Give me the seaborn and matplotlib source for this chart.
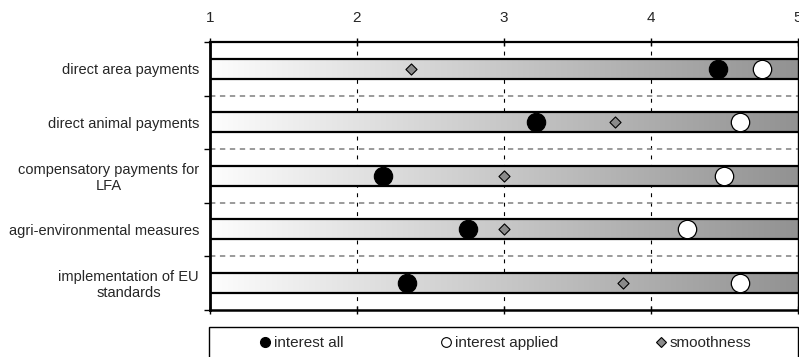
import numpy as np
import pandas as pd
import matplotlib
matplotlib.use("Agg")
import matplotlib.pyplot as plt
from matplotlib.colors import LinearSegmentedColormap
from matplotlib.lines import Line2D
from matplotlib.patches import Rectangle
import seaborn as sns

# --- data ---
categories = [
    "direct area payments",
    "direct animal payments",
    "compensatory payments for\nLFA",
    "agri-environmental measures",
    "implementation of EU\nstandards",
]
interest_all = [4.46, 3.22, 2.18, 2.76, 2.34]
interest_applied = [4.76, 4.61, 4.50, 4.25, 4.61]
smoothness = [2.37, 3.76, 3.00, 3.00, 3.81]
x_ticks = [1, 2, 3, 4, 5]

pos = np.arange(len(categories))
df = pd.DataFrame({
    "pos": pos,
    "interest all": interest_all,
    "interest applied": interest_applied,
    "smoothness": smoothness,
})

sns.set_style("white")
plt.rcParams["font.family"] = ["Liberation Sans", "DejaVu Sans"]

fig = plt.figure(figsize=(7.99, 3.57), dpi=100)
ax = fig.add_axes([210 / 799, 1 - 309.5 / 357, 587.5 / 799, 267.5 / 357])

# vertical dashed grid
for xv in x_ticks[1:-1]:
    ax.axvline(xv, color="black", lw=0.8, dashes=(3.5, 5), zorder=0.5)

# dashed separators between rows
for b in pos[:-1] + 0.5:
    ax.axhline(b, color="#7f7f7f", lw=1.1, dashes=(3.5, 3), zorder=0.6)

# gradient bars
grad = LinearSegmentedColormap.from_list("g", ["#fdfdfd", "#929292"])
gimg = np.linspace(0, 1, 256).reshape(1, -1)
half = 0.19
for p in pos:
    ax.imshow(gimg, cmap=grad, aspect="auto",
              extent=[x_ticks[0], x_ticks[-1], p + half, p - half], zorder=1)
ax.hlines(np.concatenate([pos - half, pos + half]), x_ticks[0], x_ticks[-1],
          color="black", lw=1.6, zorder=1.5)
ax.set_xlim(x_ticks[0], x_ticks[-1])
ax.set_ylim(len(categories) - 0.5, -0.5)

# markers
sns.scatterplot(data=df, x="smoothness", y="pos", marker="D", s=32,
                color="#8a8a8a", edgecolor="black", linewidth=0.8,
                ax=ax, zorder=3, legend=False)
sns.scatterplot(data=df, x="interest all", y="pos", marker="o", s=175,
                color="black", edgecolor="black", linewidth=0.8,
                ax=ax, zorder=4, legend=False)
sns.scatterplot(data=df, x="interest applied", y="pos", marker="o", s=175,
                color="white", edgecolor="black", linewidth=0.9,
                ax=ax, zorder=4, legend=False)
ax.set_xlabel("")
ax.set_ylabel("")

# axes styling
ax.xaxis.tick_top()
ax.set_xticks(x_ticks)
ax.set_xticklabels([str(t) for t in x_ticks])
ax.tick_params(axis="x", which="major", top=True, bottom=True, direction="inout",
               length=6, width=1, color="black", labelsize=11, pad=9)
ax.set_yticks(pos)
ax.set_yticklabels(categories, fontsize=10.5, multialignment="center")
ax.set_yticks(np.arange(-0.5, len(categories), 1.0), minor=True)
ax.tick_params(axis="y", which="major", left=True, length=0, pad=8)
ax.tick_params(axis="y", which="minor", left=True, direction="out",
               length=4, width=1, color="black")
for lab in ax.get_yticklabels():
    lab.set_horizontalalignment("right")

for side, w in [("left", 2.0), ("top", 1.6), ("bottom", 1.8), ("right", 1.0)]:
    ax.spines[side].set_visible(True)
    ax.spines[side].set_color("black")
    ax.spines[side].set_linewidth(w)
    ax.spines[side].set_zorder(5)

# legend box and entries
fig.patches.append(Rectangle((209 / 799, -0.1), 589 / 799, 0.1 + 1 - 327 / 357,
                             transform=fig.transFigure, fill=False,
                             edgecolor="black", lw=1.0))
handles = [
    Line2D([], [], ls="none", marker="o", ms=7, color="black",
           markeredgecolor="black", label="interest all"),
    Line2D([], [], ls="none", marker="o", ms=7, markerfacecolor="white",
           markeredgecolor="black", markeredgewidth=0.8, label="interest applied"),
    Line2D([], [], ls="none", marker="D", ms=5, markerfacecolor="#8a8a8a",
           markeredgecolor="black", markeredgewidth=0.8, label="smoothness"),
]
fig.legend(handles=handles, loc="center", ncol=3, frameon=False,
           bbox_to_anchor=(506 / 799, 1 - 343 / 357), fontsize=11,
           handlelength=0.6, handletextpad=0.3, columnspacing=6.4,
           borderpad=0)

fig.savefig("out.png", dpi=100)
plt.close(fig)
